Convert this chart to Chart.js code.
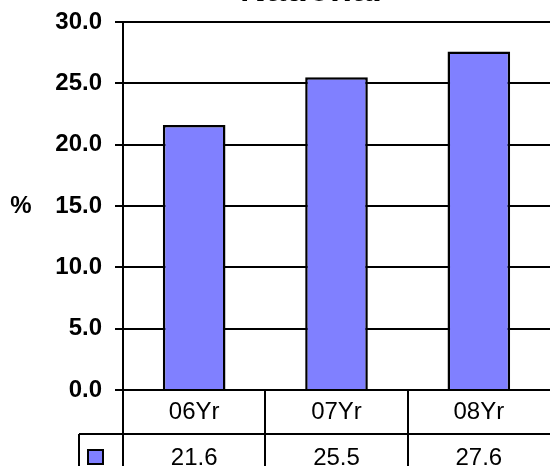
<!DOCTYPE html>
<html>
<head>
<meta charset="utf-8">
<script src="https://cdn.jsdelivr.net/npm/chart.js@4.4.0/dist/chart.umd.min.js"></script>
<style>
  html, body { margin: 0; padding: 0; background: #fff; overflow: hidden; }
</style>
</head>
<body>
<canvas id="chart" width="550" height="466"></canvas>
<script>
// --- chart data ---
const categories = ['06Yr', '07Yr', '08Yr'];
const values = [21.6, 25.5, 27.6];
const yTicks = [0, 5, 10, 15, 20, 25, 30];
const chartTitle = 'National';
const yLabel = '%';

const FONT = "'Liberation Sans', Arial, sans-serif";
const BAR_COLOR = '#8080FF';

// draws the title, the % label and the data table under the plot
const tablePlugin = {
    id: 'dataTable',
    afterDraw(chart) {
        const ctx = chart.ctx;
        const area = chart.chartArea;
        const xs = chart.scales.x;
        const ys = chart.scales.y;
        const W = chart.width;
        const H = chart.height;
        const row1 = area.bottom + 44;
        const colW = xs.getPixelForValue(1) - xs.getPixelForValue(0);

        ctx.save();
        ctx.strokeStyle = '#000';
        ctx.lineWidth = 2;

        // table lines
        ctx.beginPath();
        ctx.moveTo(area.left, area.top - 1);
        ctx.lineTo(area.left, H);
        ctx.moveTo(79, row1);
        ctx.lineTo(W, row1);
        ctx.moveTo(79, row1);
        ctx.lineTo(79, H);
        for (let i = 1; i < categories.length; i++) {
            const x = Math.round(xs.getPixelForValue(i) - colW / 2);
            ctx.moveTo(x, area.bottom);
            ctx.lineTo(x, H);
        }
        ctx.stroke();

        // legend key
        ctx.fillStyle = BAR_COLOR;
        ctx.fillRect(88, 450, 15, 14);
        ctx.strokeRect(88, 450, 15, 14);

        // category labels + values
        ctx.fillStyle = '#000';
        ctx.font = '24px ' + FONT;
        ctx.textAlign = 'center';
        ctx.textBaseline = 'middle';
        categories.forEach((c, i) => {
            const x = xs.getPixelForValue(i);
            ctx.fillText(c, x, area.bottom + 22);
            ctx.fillText(values[i].toFixed(1), x, row1 + 24);
        });

        // y label
        ctx.font = 'bold 24px ' + FONT;
        ctx.fillText(yLabel, 21, ys.getPixelForValue(15));

        // title, mostly cut off at the top
        ctx.font = 'bold 36px ' + FONT;
        ctx.textBaseline = 'alphabetic';
        ctx.fillText(chartTitle, 311, 1);
        ctx.restore();
    }
};

new Chart(document.getElementById('chart'), {
    type: 'bar',
    data: {
        labels: categories,
        datasets: [{
            label: chartTitle,
            data: values,
            backgroundColor: BAR_COLOR,
            borderColor: '#000',
            borderWidth: 2.5,
            barPercentage: 0.44,
            categoryPercentage: 1
        }]
    },
    options: {
        responsive: false,
        animation: false,
        devicePixelRatio: 1,
        layout: { padding: { left: 0, right: 0, top: 22, bottom: 0 } },
        plugins: {
            legend: { display: false },
            title: { display: false },
            tooltip: { enabled: false }
        },
        scales: {
            x: {
                ticks: { display: false },
                grid: { display: false },
                border: { display: false },
                afterFit: s => { s.height = 76; }
            },
            y: {
                min: 0,
                max: 30,
                ticks: {
                    stepSize: 5,
                    autoSkip: false,
                    padding: 13,
                    color: '#000',
                    font: { family: FONT, size: 24, weight: 'bold' },
                    callback: v => Number(v).toFixed(1)
                },
                grid: { color: '#000', lineWidth: 2, tickLength: 8, drawTicks: true },
                border: { display: true, color: '#000', width: 2 },
                afterFit: s => {
                    s.width = 123;
                    s.paddingTop = 0;
                    s.paddingBottom = 0;
                }
            }
        }
    },
    plugins: [tablePlugin]
});
</script>
</body>
</html>
